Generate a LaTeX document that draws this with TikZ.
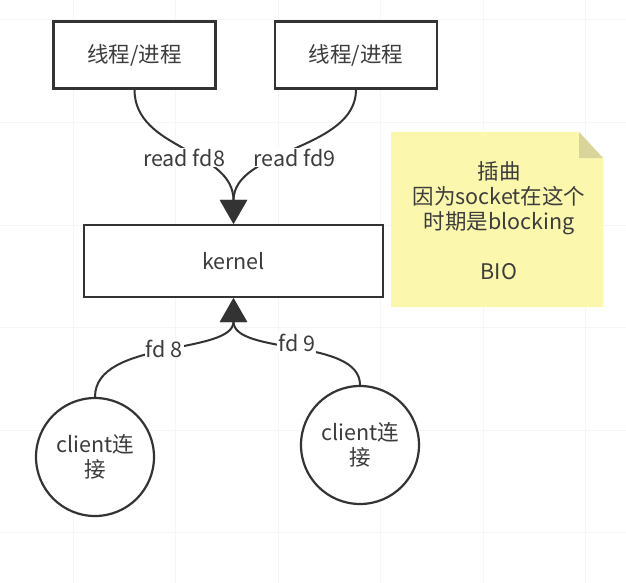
\documentclass[tikz,border=0pt]{standalone}
\usepackage{fontspec}
\setmainfont{Noto Sans CJK SC}
\usetikzlibrary{arrows.meta}
\definecolor{ink}{HTML}{333333}
\definecolor{txt}{HTML}{3C3C3C}
\definecolor{notefill}{HTML}{FBF8AE}
\definecolor{notefold}{HTML}{D9D49A}
\definecolor{gridc}{HTML}{F6F6F6}
\tikzset{
  procbox/.style={draw=ink, line width=2.2pt, fill=white, minimum width=162pt, minimum height=67pt, inner sep=0pt, text=txt},
  clientc/.style={draw=ink, line width=2.2pt, fill=white, circle, minimum size=118pt, inner sep=0pt, align=center, text=txt},
  conn/.style={draw=ink, line width=2pt, -{Triangle[length=24pt,width=27pt]}},
  lbl/.style={fill=white, inner sep=1pt, text=txt},
  every node/.style={font=\fontsize{21.5}{25}\selectfont}
}
\begin{document}
\begin{tikzpicture}[x=1pt,y=-1pt]
\useasboundingbox (0,0) rectangle (626,583);
\fill[white] (0,0) rectangle (626,583);
% faint background grid
\foreach \gx in {73,175.5,278,380.5,483,585.5} \draw[gridc, line width=1pt] (\gx,0) -- (\gx,583);
\foreach \gy in {20,122.5,225,327.5,430,532.5} \draw[gridc, line width=1pt] (0,\gy) -- (626,\gy);

% nodes
\node[procbox] (p1) at (134.5,55) {线程/进程};
\node[procbox] (p2) at (356,55) {线程/进程};
\node[procbox, minimum width=299pt, minimum height=72pt] (kernel) at (233.5,261) {kernel};
\node[clientc] (c1) at (95,457) {client连\\接};
\node[clientc] (c2) at (360,445) {client连\\接};

% sticky note
\fill[notefill] (391,132) -- (579,132) -- (603,158) -- (603,307) -- (391,307) -- cycle;
\fill[notefold] (579,132) -- (603,158) -- (579,158) -- cycle;
\node[align=center, text=txt] (note) at (499,221) {插曲\\因为socket在这个\\时期是blocking\\[25pt]BIO};

% connectors
\draw[conn] (p1.south) .. controls +(0,61) and +(0,-75) .. (kernel.north)
  node[lbl, pos=0.5, yshift=-6pt] {read fd8};
\draw[conn] (p2.south) .. controls +(0,61) and +(0,-75) .. (kernel.north)
  node[lbl, pos=0.5, yshift=-6pt] {read fd9};
\draw[conn] (c1.north) .. controls +(0,-58) and +(0,57) .. (kernel.south)
  node[lbl, pos=0.5, yshift=-2pt] {fd 8};
\draw[conn] (c2.north) .. controls +(0,-47) and +(0,57) .. (kernel.south)
  node[lbl, pos=0.5, yshift=2pt] {fd 9};
\end{tikzpicture}
\end{document}
